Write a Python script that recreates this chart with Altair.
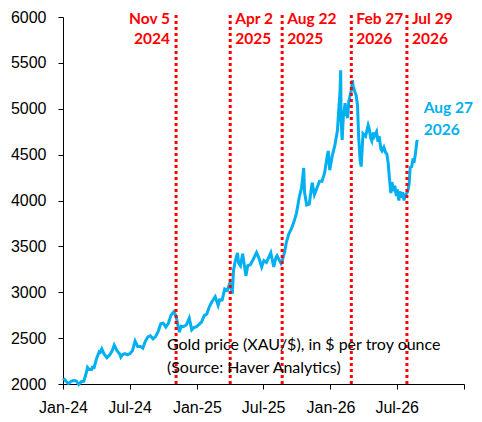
import altair as alt
import pandas as pd

# Gold price (XAU/$), weekly-ish readings
dates = [
    "2024-01-02","2024-01-09","2024-01-16","2024-01-23","2024-01-30","2024-02-06","2024-02-13","2024-02-20",
    "2024-02-27","2024-03-05","2024-03-08","2024-03-12","2024-03-19","2024-03-21","2024-03-26","2024-04-02",
    "2024-04-09","2024-04-12","2024-04-16","2024-04-23","2024-04-30","2024-05-07","2024-05-14","2024-05-20",
    "2024-05-28","2024-06-04","2024-06-07","2024-06-11","2024-06-18","2024-06-25","2024-07-02","2024-07-09",
    "2024-07-16","2024-07-23","2024-07-30","2024-08-06","2024-08-13","2024-08-20","2024-08-27","2024-09-03",
    "2024-09-10","2024-09-17","2024-09-24","2024-10-01","2024-10-08","2024-10-15","2024-10-22","2024-10-30",
    "2024-11-05","2024-11-07","2024-11-14","2024-11-19","2024-11-25","2024-12-03","2024-12-11","2024-12-18",
    "2024-12-24","2024-12-31",
    "2025-01-07","2025-01-14","2025-01-21","2025-01-28","2025-02-04","2025-02-11","2025-02-20","2025-02-28",
    "2025-03-04","2025-03-11","2025-03-18","2025-03-25","2025-04-01","2025-04-03","2025-04-08","2025-04-11",
    "2025-04-16","2025-04-22","2025-04-25","2025-04-30","2025-05-06","2025-05-15","2025-05-20","2025-05-27",
    "2025-06-03","2025-06-13","2025-06-20","2025-06-27","2025-07-03","2025-07-10","2025-07-22","2025-07-30",
    "2025-08-05","2025-08-08","2025-08-19","2025-08-22","2025-08-29","2025-09-02","2025-09-09","2025-09-16",
    "2025-09-23","2025-09-30","2025-10-08","2025-10-14","2025-10-17","2025-10-20","2025-10-22","2025-10-28",
    "2025-11-04","2025-11-12","2025-11-18","2025-11-25","2025-12-02","2025-12-09","2025-12-16","2025-12-23",
    "2025-12-26","2025-12-30",
    "2026-01-06","2026-01-13","2026-01-20","2026-01-23","2026-01-27","2026-01-29","2026-01-30","2026-02-02",
    "2026-02-05","2026-02-10","2026-02-13","2026-02-17","2026-02-20","2026-02-24","2026-02-27","2026-03-02",
    "2026-03-04","2026-03-09","2026-03-12","2026-03-16","2026-03-19","2026-03-23","2026-03-26","2026-03-31",
    "2026-04-07","2026-04-14","2026-04-17","2026-04-21","2026-04-24","2026-04-28","2026-05-01","2026-05-07",
    "2026-05-11","2026-05-14","2026-05-19","2026-05-22","2026-05-27","2026-06-01","2026-06-04","2026-06-08",
    "2026-06-11","2026-06-15","2026-06-18","2026-06-23","2026-06-26","2026-06-30","2026-07-03","2026-07-07",
    "2026-07-10","2026-07-14","2026-07-17","2026-07-21","2026-07-24","2026-07-29","2026-07-31","2026-08-04",
    "2026-08-07","2026-08-11","2026-08-14","2026-08-18","2026-08-21","2026-08-25","2026-08-27",
]
prices = [
    2063, 2030, 2005, 2028, 2037, 2034, 1995, 2025,
    2030, 2128, 2180, 2158, 2158, 2182, 2178, 2280,
    2352, 2345, 2383, 2322, 2287, 2314, 2358, 2425,
    2360, 2327, 2294, 2316, 2330, 2320, 2330, 2365,
    2469, 2410, 2410, 2390, 2465, 2513, 2525, 2493,
    2517, 2570, 2657, 2662, 2620, 2662, 2748, 2788,
    2740, 2700, 2565, 2630, 2625, 2643, 2718, 2590,
    2615, 2625,
    2650, 2678, 2745, 2762, 2842, 2897, 2952, 2857,
    2918, 2916, 3035, 3020, 3100, 3070, 2985, 3237,
    3342, 3430, 3318, 3288, 3420, 3180, 3290, 3300,
    3352, 3432, 3368, 3275, 3345, 3325, 3430, 3275,
    3380, 3398, 3315, 3340, 3445, 3535, 3635, 3690,
    3765, 3860, 4040, 4140, 4250, 4355, 4095, 3950,
    3960, 4195, 4065, 4135, 4210, 4210, 4300, 4480,
    4540, 4330,
    4490, 4600, 4760, 4950, 5180, 5420, 4880, 4660,
    4900, 5060, 4950, 4900, 5080, 5150, 5200, 5310,
    5250, 5180, 5150, 5040, 4700, 4440, 4370, 4730,
    4700, 4820, 4780, 4680, 4650, 4740, 4700, 4750,
    4640, 4700, 4560, 4540, 4580, 4520, 4510, 4400,
    4250, 4080, 4200, 4100, 4160, 4050, 4120, 4000,
    4100, 4030, 4090, 4000, 4060, 4080, 4100, 4180,
    4360, 4370, 4440, 4430, 4500, 4640, 4660,
]

event_dates = ["2024-11-05", "2025-04-02", "2025-08-22", "2026-02-27", "2026-07-29"]
event_line1 = ["Nov 5", "Apr 2", "Aug 22", "Feb 27", "Jul 29"]
event_line2 = ["2024", "2025", "2025", "2026", "2026"]
event_side = ["left", "right", "right", "right", "right"]

note_date = ["2024-10-11"]
note_value = [2370]
note_text = ["Gold price (XAU/$), in $ per troy ounce\n(Source: Haver Analytics)"]

end_date = ["2026-09-13"]
end_value = [4950]
end_text = ["Aug 27\n2026"]

y_ticks = [2000, 2500, 3000, 3500, 4000, 4500, 5000, 5500, 6000]

series = pd.DataFrame({"date": dates, "price": prices})
events = pd.DataFrame({"date": event_dates, "l1": event_line1, "l2": event_line2, "side": event_side})
note = pd.DataFrame({"date": note_date, "v": note_value, "t": note_text})
endlab = pd.DataFrame({"date": end_date, "v": end_value, "t": end_text})

BLUE = "#00B0F0"
RED = "#FF0000"

x_scale = alt.Scale(
    type="utc",
    domain=[alt.DateTime(year=2024, month=1, date=1, utc=True),
            alt.DateTime(year=2027, month=1, date=1, utc=True)],
)
y_scale = alt.Scale(domain=[2000, 6000], nice=False, zero=False)

x_axis = alt.Axis(
    title=None,
    values=[alt.DateTime(year=y, month=m, date=1, utc=True)
            for y, m in [(2024, 1), (2024, 7), (2025, 1), (2025, 7), (2026, 1), (2026, 7), (2027, 1)]],
    labelExpr="utcyear(datum.value) >= 2027 ? '' : utcFormat(datum.value, '%b-%y')",
    grid=False, ticks=True, tickSize=5, tickColor="black", domainColor="black",
    labelFont="Liberation Sans", labelFontSize=16, labelColor="black", labelPadding=10,
    labelFlush=False,
)
y_axis = alt.Axis(
    title=None, values=y_ticks, format="d", grid=False, tickSize=5, tickColor="black",
    domainColor="black", labelFont="Liberation Sans", labelFontSize=16, labelColor="black",
    labelPadding=12,
)

X = lambda f: alt.X(f, scale=x_scale, axis=x_axis, title=None)
Y = lambda f: alt.Y(f, scale=y_scale, axis=y_axis, title=None)

line = alt.Chart(series).mark_line(color=BLUE, strokeWidth=3).encode(
    x=X("date:T"),
    y=Y("price:Q"),
)

rules = alt.Chart(events).mark_rule(color=RED, strokeWidth=3, strokeDash=[3, 3]).encode(
    x=X("date:T"),
    y=alt.value(-2),
    y2=alt.value(367),
)

txt = dict(baseline="alphabetic", font="Lato", fontSize=15.5, fontWeight="bold", color=RED)
left_ev = alt.Chart(events).transform_filter(alt.datum.side == "left")
right_ev = alt.Chart(events).transform_filter(alt.datum.side == "right")

ev_layers = []
for base, align, dx in [(left_ev, "right", -6), (right_ev, "left", 5)]:
    for field, ypix in [("l1", 7), ("l2", 27)]:
        ev_layers.append(
            base.mark_text(align=align, dx=dx, **txt).encode(
                x=X("date:T"), y=alt.value(ypix), text=f"{field}:N"
            )
        )

note_mark = alt.Chart(note).mark_text(
    align="left", baseline="alphabetic", lineBreak="\n", lineHeight=23,
    font="Lato", fontSize=16, color="black",
).encode(x=X("date:T"), y=Y("v:Q"), text="t:N")

end_mark = alt.Chart(endlab).mark_text(
    align="left", baseline="alphabetic", lineBreak="\n", lineHeight=22,
    font="Lato", fontSize=15.5, fontWeight="bold", color=BLUE,
).encode(x=X("date:T"), y=Y("v:Q"), text="t:N")

chart = alt.layer(line, rules, *ev_layers, note_mark, end_mark).properties(
    width=401, height=367,
    autosize=alt.AutoSizeParams(type="none"),
    padding={"left": 55, "top": 9, "right": 10, "bottom": 30},
).configure_view(stroke=None)

chart.save("out.html", embed_options={"renderer": "svg", "actions": False})
